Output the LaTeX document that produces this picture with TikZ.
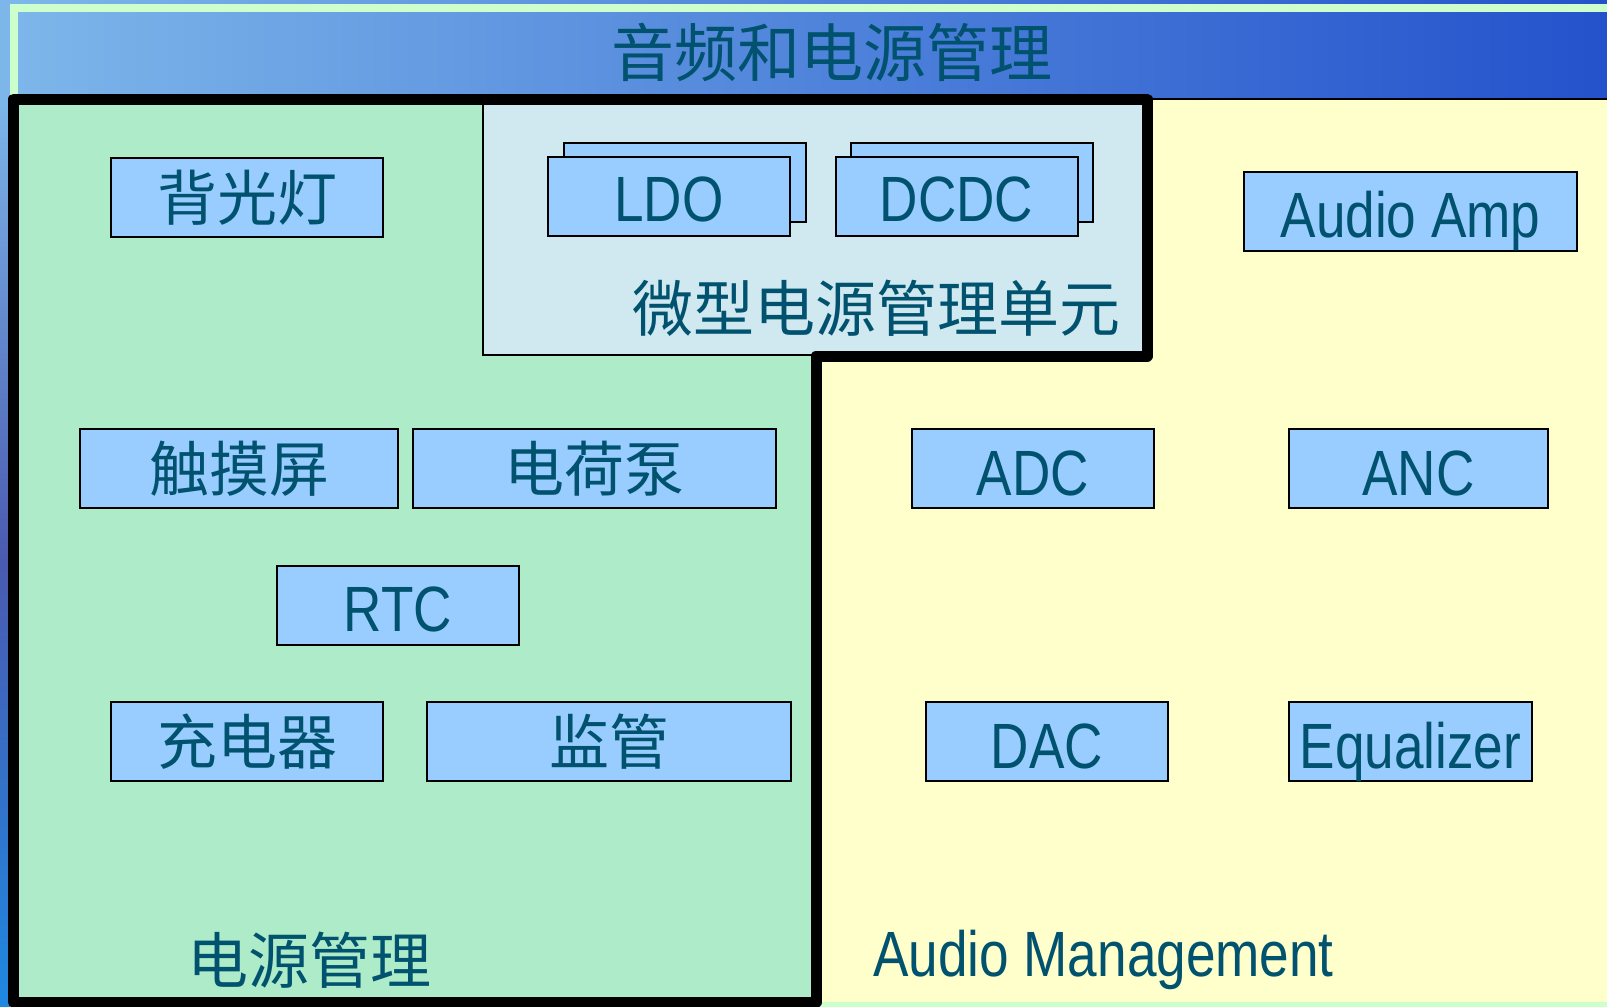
\documentclass[tikz,border=0pt]{standalone}
\usepackage{fontspec}
\newfontfamily\latinf{Liberation Sans}[FakeStretch=0.83]
\newfontfamily\cjkf{Noto Sans CJK SC}
\definecolor{hdrL}{HTML}{7DB7EA}
\definecolor{hdrM}{HTML}{5C9BE8}
\definecolor{hdrR}{HTML}{2452CC}
\definecolor{frameg}{HTML}{CCFFCC}
\definecolor{powg}{HTML}{AEEBC8}
\definecolor{audy}{HTML}{FFFFCC}
\definecolor{microb}{HTML}{D0E8F0}
\definecolor{boxb}{HTML}{99CCFF}
\definecolor{txt}{HTML}{00526E}
\definecolor{stripM}{HTML}{4A5AB0}
\definecolor{stripB}{HTML}{1E88E0}
\tikzset{
  blk/.style={draw=black, line width=2pt, fill=boxb, inner sep=0pt, minimum height=79pt, text=txt},
  cbox/.style={blk, font=\cjkf\fontsize{60pt}{66pt}\selectfont},
  clabel/.style={text=txt, inner sep=0pt, font=\cjkf\fontsize{61pt}{66pt}\selectfont},
  llabel/.style={text=txt, inner sep=0pt, font=\latinf\fontsize{64pt}{70pt}\selectfont},
  ltext/.style={text=txt, inner sep=0pt, anchor=base, font=\latinf\fontsize{64pt}{70pt}\selectfont},
}
\begin{document}
\begin{tikzpicture}[x=1pt,y=-1pt]
\useasboundingbox (0,0) rectangle (1607,1007);
% background
\shade[left color=hdrL, middle color=hdrM, right color=hdrR] (0,0) rectangle (1607,1007);
\shade[top color=hdrL, bottom color=stripM] (0,94) rectangle (12,560);
\shade[top color=stripM, bottom color=stripB] (0,559) rectangle (12,1007);
% frame
\draw[line width=8pt, frameg] (14,8) rectangle (1630,1006);
% audio region
\fill[audy] (816,99) rectangle (1607,1002);
\draw[line width=2pt] (1147,99) -- (1607,99);
% power region
\fill[powg] (13.5,99) -- (1147,99) -- (1147,356) -- (816,356) -- (816,1002) -- (13.5,1002) -- cycle;
% micro power unit
\draw[line width=2pt, fill=microb] (483,103) rectangle (1147,355);
% thick border
\draw[line width=11pt, line join=round] (13.5,99) -- (1147,99) -- (1147,356) -- (816,356) -- (816,1002) -- (13.5,1002) -- cycle;
% title
\node[clabel, font=\cjkf\fontsize{63pt}{68pt}\selectfont] (title) at (832,52) {音频和电源管理};
% boxes
\node[cbox, minimum width=272pt] (bg) at (247,197.5) {背光灯};
\node[blk, minimum width=242pt] (ldoback) at (685,182) {};
\node[blk, minimum width=242pt] (ldo) at (669,196.5) {};
\node[blk, minimum width=242pt] (dcdcback) at (972,182) {};
\node[blk, minimum width=242pt] (dcdc) at (956.5,196.5) {};
\node[blk, minimum width=333pt] (amp) at (1410.5,211.5) {};
\node[cbox, minimum width=318pt] (touch) at (239,468.5) {触摸屏};
\node[cbox, minimum width=363pt] (pump) at (594.5,468.5) {电荷泵};
\node[blk, minimum width=242pt] (adc) at (1033,468.5) {};
\node[blk, minimum width=259pt] (anc) at (1418.5,468.5) {};
\node[blk, minimum width=242pt] (rtc) at (398,605.5) {};
\node[cbox, minimum width=272pt] (charger) at (247,741.5) {充电器};
\node[cbox, minimum width=364pt] (sup) at (609,741.5) {监管};
\node[blk, minimum width=242pt] (dac) at (1047,741.5) {};
\node[blk, minimum width=243pt] (eq) at (1410.5,741.5) {};
% latin texts, baseline placed inside boxes
\node[ltext] (ldot) at ([yshift=16pt]ldo.south) {LDO};
\node[ltext] (dcdct) at ([yshift=16pt]dcdc.south) {DCDC};
\node[ltext] (ampt) at ([yshift=15pt]amp.south) {Audio Amp};
\node[ltext] (adct) at ([yshift=14pt]adc.south) {ADC};
\node[ltext] (anct) at ([yshift=14pt]anc.south) {ANC};
\node[ltext] (rtct) at ([yshift=15pt]rtc.south) {RTC};
\node[ltext] (dact) at ([yshift=14pt]dac.south) {DAC};
\node[ltext] (eqt) at ([yshift=14pt]eq.south) {Equalizer};
% region labels
\node[clabel, anchor=east] (microlabel) at (1121,308) {微型电源管理单元};
\node[clabel, anchor=west] (powlabel) at (187,960) {电源管理};
\node[llabel, anchor=west] (audlabel) at (873,960) {Audio Management};
\end{tikzpicture}
\end{document}
